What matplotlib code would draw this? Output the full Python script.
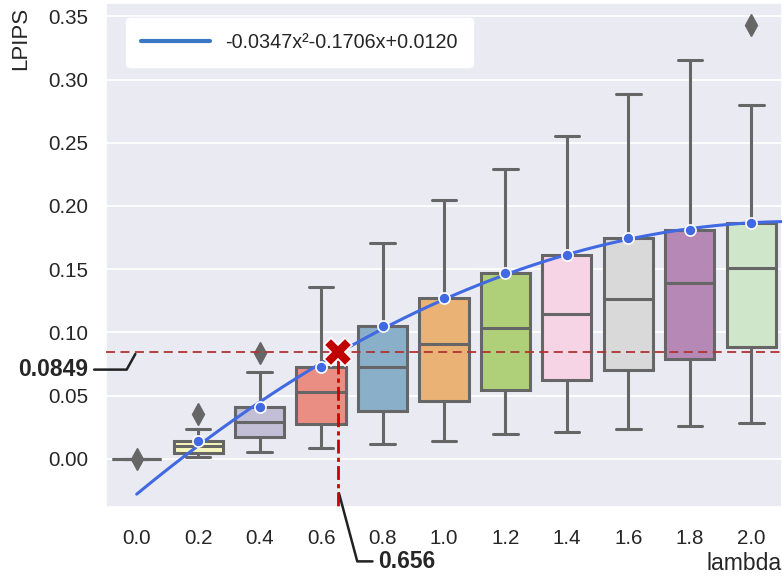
import numpy as np
import matplotlib
matplotlib.use("Agg")
import matplotlib.pyplot as plt
import seaborn as sns
from matplotlib.lines import Line2D

# box statistics, one entry per lambda
lambdas = [0.0, 0.2, 0.4, 0.6, 0.8, 1.0, 1.2, 1.4, 1.6, 1.8, 2.0]
whis_lo = [0.0, 0.0018, 0.0053, 0.0087, 0.0116, 0.0145, 0.0200, 0.0216, 0.0240, 0.0263, 0.0284]
q1 = [0.0, 0.0047, 0.0171, 0.0276, 0.0382, 0.0461, 0.0543, 0.0627, 0.0703, 0.0790, 0.0887]
medians = [0.0, 0.0100, 0.0295, 0.0527, 0.0729, 0.0906, 0.1037, 0.1145, 0.1261, 0.1390, 0.1511]
q3 = [0.0, 0.0142, 0.0408, 0.0724, 0.1050, 0.1269, 0.1472, 0.1611, 0.1746, 0.1809, 0.1867]
whis_hi = [0.0, 0.0237, 0.0685, 0.1356, 0.1706, 0.2046, 0.2296, 0.2551, 0.2889, 0.3157, 0.2796]
fliers = [[0.0], [0.0355], [0.0835], [], [], [], [], [], [], [], [0.3428]]

fit_label = "-0.0347x\u00b2-0.1706x+0.0120"
cross_x = 0.656
cross_y = 0.0849

sns.set_theme(style="darkgrid")
plt.rcParams['font.family'] = ['Liberation Sans', 'DejaVu Sans']

fig, ax = plt.subplots(figsize=(7.82, 5.81), dpi=100)
plt.subplots_adjust(left=0.1355, right=1.0, bottom=0.1274, top=0.9948)

pos = np.arange(len(lambdas))
colors = sns.color_palette("Set3", len(lambdas), desat=0.75)
gray = "#666666"

stats = []
for i in range(len(lambdas)):
    stats.append(dict(med=medians[i], q1=q1[i], q3=q3[i], whislo=whis_lo[i],
                      whishi=whis_hi[i], fliers=fliers[i]))

bp = ax.bxp(stats, positions=pos, widths=0.8, patch_artist=True,
            boxprops=dict(edgecolor=gray, linewidth=2.2),
            medianprops=dict(color=gray, linewidth=2.2),
            whiskerprops=dict(color=gray, linewidth=2.2),
            capprops=dict(color=gray, linewidth=2.2),
            flierprops=dict(marker="d", markerfacecolor=gray, markeredgecolor=gray,
                            markersize=11))
for patch, c in zip(bp["boxes"], colors):
    patch.set_facecolor(c)

# quadratic fit through the box tops (x in lambda, drawn at box positions)
lam = np.array(lambdas)
coef = np.polyfit(lam[1:], np.array(q3)[1:], 2)
xs = np.linspace(0, 2.1, 200)
ax.plot(xs * 5, np.polyval(coef, xs), color="royalblue", lw=2.2, zorder=5)
ax.plot(pos[1:], q3[1:], "o", color="royalblue", markeredgecolor="white",
        markeredgewidth=1.2, markersize=8, zorder=6)

# threshold lines and crossing
ax.axhline(cross_y, color="#b03333", lw=1.3, ls=(0, (5, 3)), zorder=4)
ax.plot([cross_x * 5, cross_x * 5], [cross_y - 0.007, -0.04], color="#d00000",
        lw=2, ls=(0, (5, 1.5, 1.5, 1.5)), zorder=4)
ax.plot(cross_x * 5, cross_y, "X", color="#c00000", markeredgecolor="white",
        markeredgewidth=1.2, markersize=20, zorder=7)

ax.annotate(f"{cross_y:.4f}", xy=(0, cross_y), xytext=(-35, -13),
            textcoords="offset points", ha="right", va="center",
            fontsize=16.5, fontweight="bold", annotation_clip=False,
            arrowprops=dict(arrowstyle="-", color="#222222", lw=1.8,
                            connectionstyle="angle,angleA=0,angleB=61,rad=0"))
ax.annotate(f"{cross_x:.3f}", xy=(cross_x * 5, -0.025), xytext=(29, -51),
            textcoords="offset points", ha="left", va="center",
            fontsize=16.5, fontweight="bold", annotation_clip=False,
            arrowprops=dict(arrowstyle="-", color="#222222", lw=1.8,
                            connectionstyle="angle,angleA=0,angleB=105,rad=0"))

ax.set_xlim(-0.5, 10.5)
ax.set_ylim(-0.038, 0.3605)
ax.set_xticks(pos)
ax.set_xticklabels([f"{v:.1f}" for v in lambdas])
ax.set_yticks(np.arange(0, 0.36, 0.05))
ax.set_yticklabels([f"{v:.2f}" for v in np.arange(0, 0.36, 0.05)])
ax.tick_params(labelsize=14.8, length=0)
ax.tick_params(axis="y", pad=13)
ax.tick_params(axis="x", pad=16)
ax.grid(axis="x", visible=False)
ax.grid(axis="y", color="white", lw=1.3)

ax.set_ylabel("LPIPS", fontsize=16, loc="top")
ax.yaxis.set_label_coords(-0.11, 0.992)
ax.set_xlabel("lambda", fontsize=16.5, loc="right")
ax.xaxis.set_label_coords(1.0, -0.09)

handle = Line2D([], [], color="#3a78c4", lw=3)
leg = ax.legend([handle], [fit_label], loc="upper left", bbox_to_anchor=(0.0296, 0.970),
                borderaxespad=0, fontsize=14.2, handlelength=3.5, handletextpad=0.8,
                frameon=True, borderpad=0.75)
leg.get_frame().set_facecolor("white")
leg.get_frame().set_edgecolor("white")
leg.get_frame().set_alpha(1)

plt.savefig("out.png", dpi=100)
